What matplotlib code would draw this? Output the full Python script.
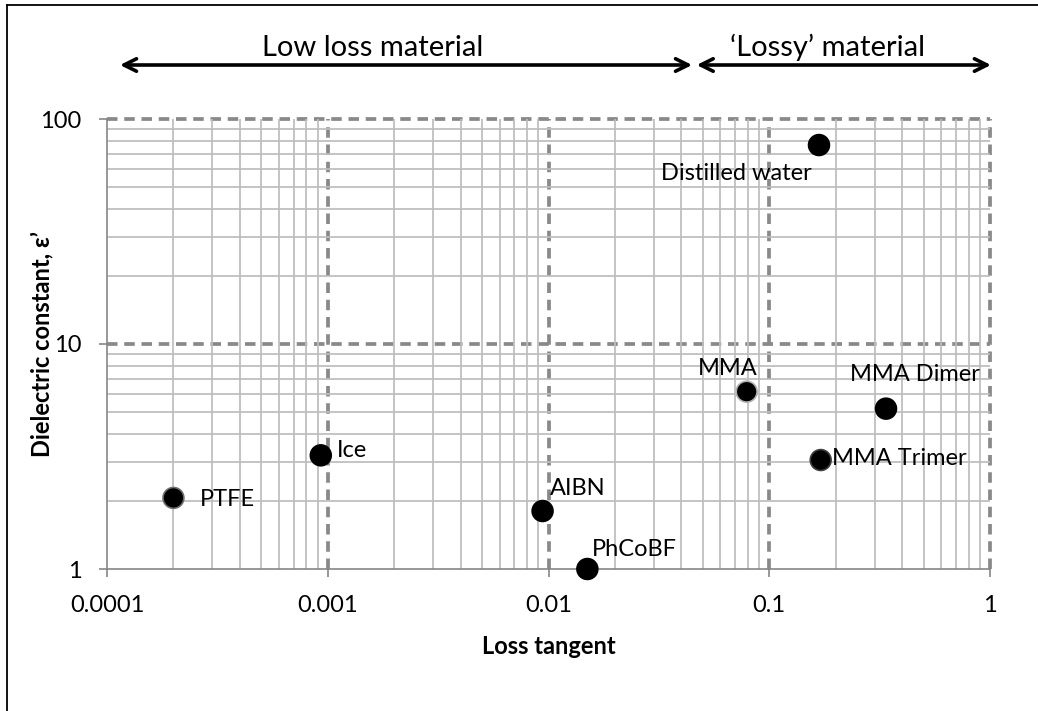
import numpy as np
import matplotlib
matplotlib.use('Agg')
import matplotlib.pyplot as plt
from matplotlib.lines import Line2D
from matplotlib.ticker import FixedLocator, LogLocator, NullFormatter, FuncFormatter

plt.rcParams['font.family'] = ['Lato', 'DejaVu Sans']

# Data
materials = ['PTFE', 'Ice', 'AIBN', 'PhCoBF', 'MMA', 'MMA Dimer', 'MMA Trimer', 'Distilled water']
loss_tangent = [0.0002, 0.00093, 0.0094, 0.015, 0.079, 0.338, 0.171, 0.168]
dielectric = [2.07, 3.2, 1.81, 1.0, 6.14, 5.16, 3.05, 76.6]

x_ticks = [0.0001, 0.001, 0.01, 0.1, 1]
y_ticks = [1, 10, 100]

# label offsets in pixels (dx, dy) and alignment
label_offsets = [(26, -2, 'left'), (16, 5, 'left'), (7, 23, 'left'), (5, 19, 'left'),
                 (-19, 23, 'center'), (-36, 34, 'left'), (11, 2, 'left'), (-83, -28, 'center')]
edge_cols = ['#6e6e6e', 'black', 'black', 'black', '#b0b0b0', 'black', '#404040', 'black']

fig = plt.figure(figsize=(10.38, 7.11), dpi=100)
ax = fig.add_axes([107 / 1038, 1 - 569 / 711, 883 / 1038, 450 / 711])

ax.set_xscale('log')
ax.set_yscale('log')
ax.set_xlim(x_ticks[0], x_ticks[-1])
ax.set_ylim(y_ticks[0], y_ticks[-1])

# minor grid (solid light gray)
ax.xaxis.set_minor_locator(LogLocator(base=10, subs=np.arange(2, 10)))
ax.yaxis.set_minor_locator(LogLocator(base=10, subs=np.arange(2, 10)))
ax.xaxis.set_minor_formatter(NullFormatter())
ax.yaxis.set_minor_formatter(NullFormatter())
ax.grid(True, which='minor', color='#bdbdbd', lw=1.25, zorder=0)
ax.tick_params(which='minor', length=0)

# major dashed lines
dash_kw = dict(color='#898989', lw=2.7, dashes=(2.8, 1.8), zorder=1, clip_on=False)
for v in x_ticks[1:]:
    ax.axvline(v, **dash_kw)
for v in y_ticks[1:]:
    ax.axhline(v, **dash_kw)

ax.xaxis.set_major_locator(FixedLocator(x_ticks))
ax.yaxis.set_major_locator(FixedLocator(y_ticks))
ax.xaxis.set_major_formatter(FuncFormatter(lambda v, p: '%g' % v if v >= 0.001 else '0.0001'))
ax.yaxis.set_major_formatter(FuncFormatter(lambda v, p: '%g' % v))
ax.tick_params(which='major', direction='out', length=6, width=1.2, color='#868686',
               labelsize=17, pad=12.5)

for s in ['top', 'right']:
    ax.spines[s].set_visible(False)
for s in ['left', 'bottom']:
    ax.spines[s].set_color('#868686')
    ax.spines[s].set_linewidth(1.2)
    ax.spines[s].set_zorder(2)

ax.scatter(loss_tangent, dielectric, s=15 ** 2, c='black', edgecolors=edge_cols,
           linewidths=1.2, zorder=5, clip_on=False)

for name, xv, yv, (dx, dy, ha) in zip(materials, loss_tangent, dielectric, label_offsets):
    ax.annotate(name, (xv, yv), xytext=(dx * 0.72, dy * 0.72), textcoords='offset points',
                ha=ha, va='center', fontsize=17, zorder=6)

ax.set_xlabel('Loss tangent', fontsize=17, fontweight='bold', labelpad=14)
ax.set_ylabel('Dielectric constant, \u03b5\u2019', fontsize=17, fontweight='bold')
ax.yaxis.set_label_coords(-0.061, 0.5)

# region arrows above the plot
arrow_kw = dict(arrowstyle='<->,head_length=0.9,head_width=0.45', lw=2.6, color='black',
                shrinkA=0, shrinkB=0)
tr = ax.get_xaxis_transform()
ax.annotate('', xy=(0.0447, 1.12), xytext=(1.145e-4, 1.12), xycoords=tr, textcoords=tr,
            arrowprops=arrow_kw, annotation_clip=False)
ax.annotate('', xy=(1.01, 1.12), xytext=(0.0469, 1.12), xycoords=tr, textcoords=tr,
            arrowprops=arrow_kw, annotation_clip=False)
ax.text(0.0016, 1.14, 'Low loss material', transform=tr, ha='center', va='baseline',
        fontsize=21)
ax.text(0.183, 1.14, '\u2018Lossy\u2019 material', transform=tr, ha='center', va='baseline',
        fontsize=21)

# outer border (left and top edges visible)
fig.add_artist(Line2D([6.5 / 1038, 6.5 / 1038], [0, 1 - 4.5 / 711], color='black', lw=1.3))
fig.add_artist(Line2D([6.5 / 1038, 1], [1 - 4.5 / 711, 1 - 4.5 / 711], color='black', lw=1.3))

fig.savefig('out.png', dpi=100)
